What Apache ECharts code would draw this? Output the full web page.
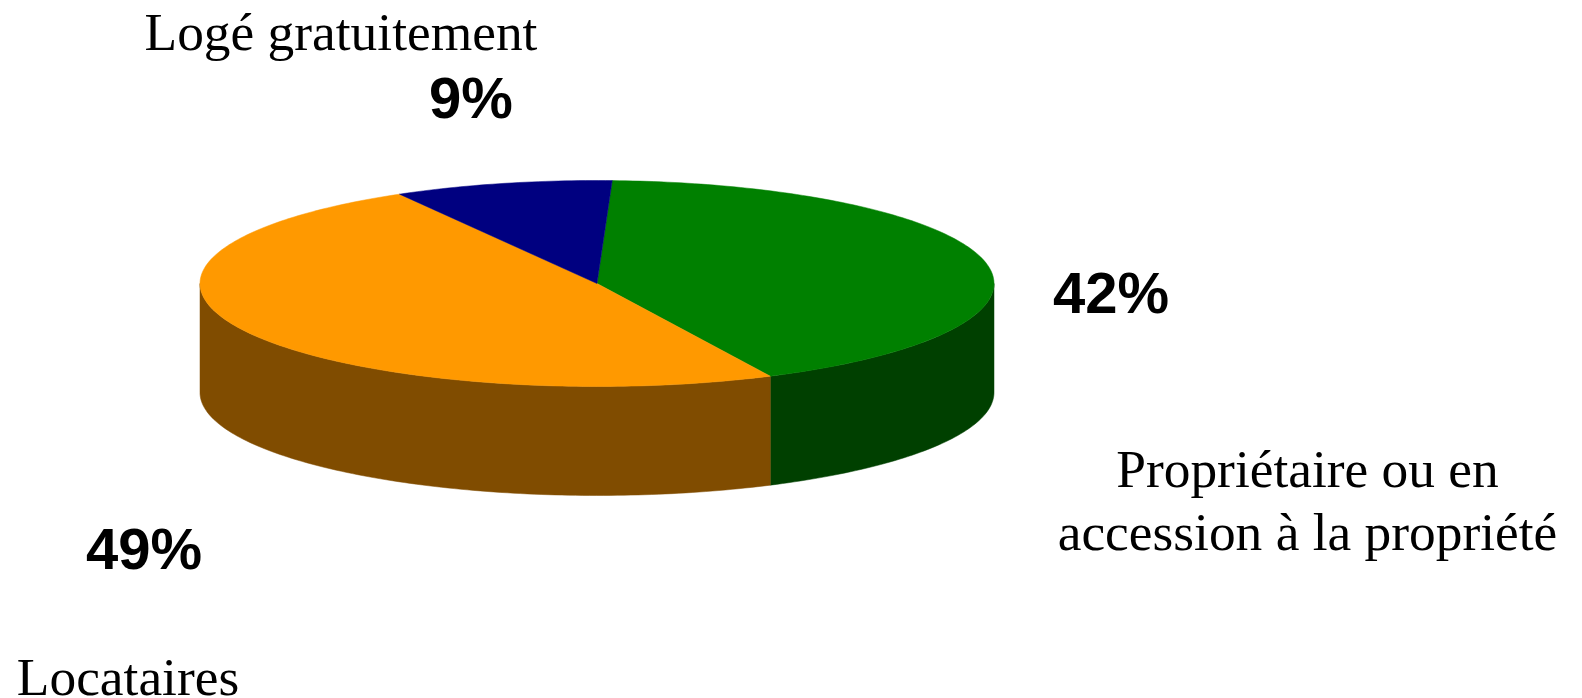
<!DOCTYPE html>
<html><head><meta charset="utf-8"><style>html,body{margin:0;padding:0;background:#fff}#c{width:1582px;height:698px}</style>
<script src="https://cdn.jsdelivr.net/npm/echarts@6/dist/echarts.min.js"></script></head>
<body><div id="c"></div><script>
const categories = ['Propriétaire ou en\naccession à la propriété','Locataires','Logé gratuitement'];
const values = [42.2,48.9,8.9];
const percentLabels = ['42%','49%','9%'];
const topColors = ['#008000','#FF9900','#000080'];
const sideColors = ['#004000','#804C00','#000040'];
const startAngle = 87.8;
const cx=597, cy=283.5, rx=397, ry=103, depth=109;
const total = values.reduce((a,b)=>a+b,0);
const rad=d=>d*Math.PI/180;
const pt=(d,dz)=>[cx+rx*Math.cos(rad(d)), cy-ry*Math.sin(rad(d))+dz];
function arc(a,b,dz){const n=Math.max(2,Math.ceil(Math.abs(b-a)));const p=[];for(let i=0;i<=n;i++)p.push(pt(a+(b-a)*i/n,dz));return p;}
const spans=[];let acc=startAngle;
values.forEach(v=>{const s=v/total*360;spans.push([acc,acc-s]);acc-=s;});
function renderSide(params){
  const [a,b]=spans[params.dataIndex];
  const s=Math.min(a,0), e=Math.max(b,-180);
  if(s<=e) return {type:'group',children:[]};
  const top=arc(s,e,0), bot=arc(e,s,depth);
  return {type:'polygon',shape:{points:top.concat(bot)},style:{fill:sideColors[params.dataIndex],stroke:sideColors[params.dataIndex],lineWidth:0.5}};
}
function renderTop(params){
  const [a,b]=spans[params.dataIndex];
  return {type:'polygon',shape:{points:[[cx,cy]].concat(arc(a,b,0))},style:{fill:topColors[params.dataIndex],stroke:topColors[params.dataIndex],lineWidth:0.5}};
}
const sans='"Liberation Sans",Arial,sans-serif', serif='"Liberation Serif","Times New Roman",serif';
const tx=(x,y,text,font,size,weight,align)=>({type:'text',x,y,style:{text,font:`${weight} ${size}px ${font}`,fill:'#000',textAlign:align||'center',textVerticalAlign:'middle',lineHeight:63}});
const chart=echarts.init(document.getElementById('c'),null,{renderer:'canvas'});
chart.setOption({
  animation:false,backgroundColor:'#fff',
  series:[
    {type:'custom',coordinateSystem:'none',renderItem:renderSide,data:values,silent:true,z:1},
    {type:'custom',coordinateSystem:'none',renderItem:renderTop,data:values,silent:true,z:2}
  ],
  graphic:{elements:[
    tx(341,36,categories[2],serif,53.4,'normal'),
    tx(471,102,percentLabels[2],sans,58,'bold'),
    tx(1111,297,percentLabels[0],sans,58,'bold'),
    tx(1307.5,504,categories[0],serif,53.4,'normal'),
    tx(144,553,percentLabels[1],sans,58,'bold'),
    tx(128,681,categories[1],serif,53.4,'normal')
  ]}
});
</script></body></html>
